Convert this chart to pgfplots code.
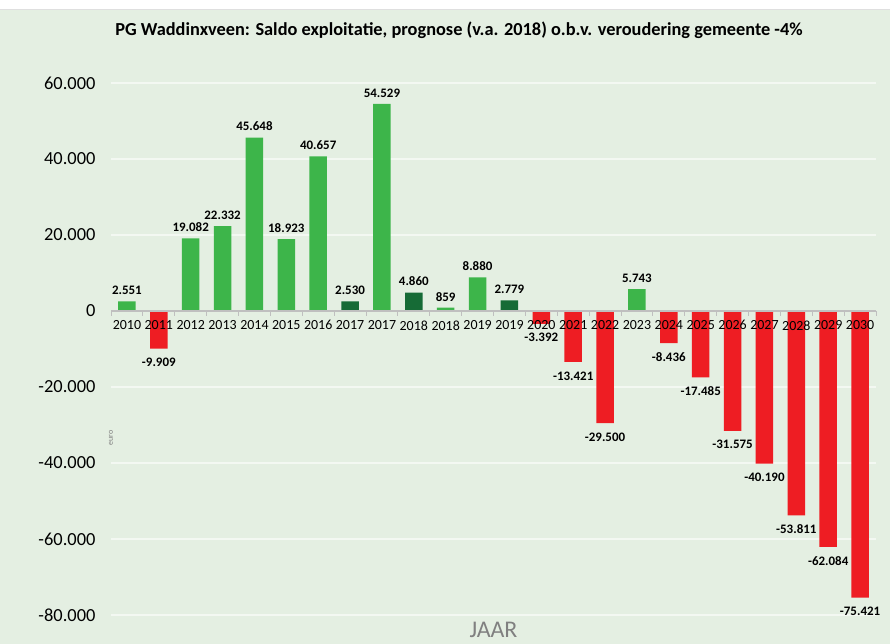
\documentclass[border=0pt]{standalone}
\usepackage{fontspec}
\setmainfont{Carlito}
\usepackage{pgfplots}
\pgfplotsset{compat=1.18}

\definecolor{bg}{HTML}{E4EFE2}
\definecolor{barGreen}{HTML}{3DB54A}
\definecolor{barDark}{HTML}{166B36}
\definecolor{barRed}{HTML}{EE1D23}
\definecolor{axisGray}{HTML}{BFBFBF}
\definecolor{gridCol}{HTML}{F3F8F2}

\pgfkeys{/pgf/number format/.cd, fixed, precision=0, 1000 sep={.}, assume math mode=true}
\pgfplotsset{
  frame/.style={
    at={(111bp,29bp)}, anchor=south west,
    scale only axis, width=765bp, height=532bp,
    xmin=-0.5, xmax=23.5,
    ymin=-80000, ymax=60000,
    scaled y ticks=false,
    clip=false,
  },
}

\begin{document}
\begin{tikzpicture}
\path[use as bounding box] (0,0) rectangle (890bp,644bp);
\fill[bg] (0,0) rectangle (890bp,644bp);
\fill[white] (0,635bp) rectangle (890bp,644bp);
\draw[gray!25] (0,635bp) -- (890bp,635bp);
\node[font=\bfseries\fontsize{18.4}{20}\selectfont] at (459bp,614bp)
  {PG Waddinxveen: Saldo exploitatie, prognose (v.a. 2018) o.b.v. veroudering gemeente -4\%};

% bars and grid
\begin{axis}[
  frame,
  hide x axis,
  axis y line*=left,
  y axis line style={draw=none},
  ytick={-80000,-60000,...,60000},
  yticklabels={},
  ytick style={draw=none},
  ymajorgrids,
  major grid style={draw=gridCol, line width=1.2bp},
  ybar, bar shift=0pt, bar width=0.55,
  nodes near coords,
  every node near coord/.append style={font=\bfseries\fontsize{13}{15}\selectfont, black},
]
\addplot[draw=none, fill=barGreen,
  every node near coord/.append style={yshift=3bp}] coordinates {
  (0,2551) (2,19082) (3,22332) (4,45648) (5,18923) (6,40657)
  (8,54529) (10,859) (11,8880) (16,5743)
};
\addplot[draw=none, fill=barDark,
  every node near coord/.append style={yshift=3bp}] coordinates {
  (7,2530) (9,4860) (12,2779)
};
\addplot[draw=none, fill=barRed,
  every node near coord/.append style={yshift=-6bp}] coordinates {
  (1,-9909) (13,-3392) (14,-13421) (15,-29500) (17,-8436) (18,-17485)
  (19,-31575) (20,-40190) (21,-53811) (22,-62084) (23,-75421)
};
\end{axis}

% axis line, ticks and tick labels on top of the bars
\begin{axis}[
  frame,
  axis x line*=middle,
  axis y line*=left,
  x axis line style={draw=axisGray, line width=1.2bp},
  y axis line style={draw=none},
  xtick={0,...,23},
  xticklabels={2010,2011,2012,2013,2014,2015,2016,2017,2017,2018,2018,2019,2019,2020,2021,2022,2023,2024,2025,2026,2027,2028,2029,2030},
  minor xtick={-0.5,0.5,...,23.5},
  major tick length=0pt,
  minor tick length=5bp,
  tick align=outside,
  minor x tick style={draw=axisGray, line width=1bp},
  ytick={-80000,-60000,...,60000},
  ytick style={draw=none},
  xticklabel style={font=\fontsize{14}{16}\selectfont, yshift=-6bp},
  yticklabel style={font=\fontsize{18.5}{20}\selectfont, xshift=-12bp},
]
\node[rotate=90, font=\fontsize{8}{9}\selectfont, text=gray] at (rel axis cs:0,0.5) [xshift=-89bp] {euro};
\node[font=\fontsize{24}{26}\selectfont, text=gray] at (rel axis cs:0.5,0) [yshift=-15bp] {JAAR};
\end{axis}
\end{tikzpicture}
\end{document}
